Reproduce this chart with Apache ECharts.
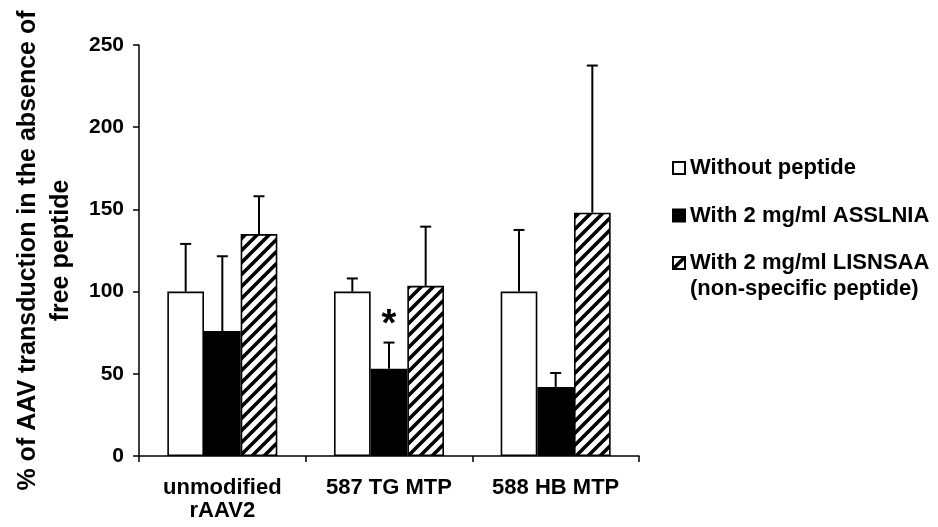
<!DOCTYPE html>
<html>
<head>
<meta charset="utf-8">
<script src="https://cdn.jsdelivr.net/npm/echarts@6/dist/echarts.min.js"></script>
<style>
html,body{margin:0;padding:0;background:#fff;}
#chart{width:938px;height:527px;}
</style>
</head>
<body>
<div id="chart"></div>
<script>
// ---- data ----
const categories = ['unmodified\nrAAV2', '587 TG MTP', '588 HB MTP'];
const seriesNames = ['Without peptide', 'With 2 mg/ml ASSLNIA', 'With 2 mg/ml LISNSAA'];
const legendSubtitle = '(non-specific peptide)';
const withoutPeptide = [100, 100, 100];
const withAsslnia = [76, 53, 42];
const withLisnsaa = [135, 103.5, 148];
const errWithout = [29, 8, 37.5];
const errAsslnia = [45.5, 16, 8.5];
const errLisnsaa = [23, 36, 89.5];
const sigAsslnia = ['', '*', ''];
const yMin = 0, yMax = 250, yStep = 50;

const FONT = '"Liberation Sans", Arial, sans-serif';
const GAP = 0.34;

function hatch() {
  const s = 12;
  const c = document.createElement('canvas');
  c.width = s; c.height = s;
  const g = c.getContext('2d');
  g.fillStyle = '#fff';
  g.fillRect(0, 0, s, s);
  g.strokeStyle = '#000';
  g.lineWidth = 3.6;
  g.lineCap = 'square';
  [-s, 0, s].forEach((dx) => {
    g.beginPath();
    g.moveTo(dx, s);
    g.lineTo(dx + s, 0);
    g.stroke();
  });
  return c;
}

const chart = echarts.init(document.getElementById('chart'), null, {renderer: 'canvas'});

const fills = ['#ffffff', '#000000', {image: hatch(), repeat: 'repeat'}];
const means = [withoutPeptide, withAsslnia, withLisnsaa];
const errs = [errWithout, errAsslnia, errLisnsaa];
const sigs = [['', '', ''], sigAsslnia, ['', '', '']];

const barSeries = seriesNames.map((name, k) => ({
  name: name,
  type: 'bar',
  data: means[k],
  barGap: '0%',
  barCategoryGap: (GAP * 100) + '%',
  itemStyle: {color: fills[k], borderColor: '#000', borderWidth: 1.6},
  emphasis: {disabled: true},
  z: 2
}));

const errSeries = seriesNames.map((name, k) => ({
  type: 'custom',
  name: name + ' err',
  data: means[k].map((m, i) => [i, m, m + errs[k][i]]),
  encode: {x: 0, y: [1, 2]},
  z: 5,
  silent: true,
  renderItem: function (params, api) {
    const ci = api.value(0);
    const mean = api.value(1);
    const up = api.value(2);
    const sig = sigs[k][ci];
    const w = api.size([1, 0])[0];
    const bw = w * (1 - GAP) / 3;
    const base = api.coord([ci, mean]);
    const top = api.coord([ci, up]);
    const x = base[0] + (k - 1) * bw;
    const children = [
      {type: 'line', shape: {x1: x, y1: base[1], x2: x, y2: top[1]}, style: {stroke: '#000', lineWidth: 2}},
      {type: 'line', shape: {x1: x - 5.5, y1: top[1], x2: x + 5.5, y2: top[1]}, style: {stroke: '#000', lineWidth: 2}}
    ];
    if (sig) {
      children.push({type: 'text', style: {text: sig, x: x, y: top[1] + 2, align: 'center', verticalAlign: 'bottom',
        font: 'bold 38px ' + FONT, fill: '#000'}});
    }
    return {type: 'group', children: children};
  }
}));

chart.setOption({
  animation: false,
  backgroundColor: '#fff',
  grid: {left: 139, right: 299, top: 45, bottom: 71},
  legend: {
    orient: 'vertical',
    left: 667,
    top: 150,
    itemWidth: 12,
    itemHeight: 12,
    itemGap: 21.5,
    icon: 'rect',
    data: seriesNames,
    selectedMode: false,
    textStyle: {fontFamily: FONT, fontWeight: 'bold', fontSize: 22, color: '#000', lineHeight: 26}
  },
  graphic: [{
    type: 'text',
    left: 690,
    top: 278,
    style: {text: legendSubtitle, font: 'bold 22px ' + FONT, fill: '#000'}
  }],
  xAxis: {
    type: 'category',
    data: categories,
    axisLine: {lineStyle: {color: '#000', width: 1.5}},
    axisTick: {show: true, length: 6, lineStyle: {color: '#000', width: 1.5}},
    axisLabel: {color: '#000', fontFamily: FONT, fontWeight: 'bold', fontSize: 22, lineHeight: 23, margin: 20, interval: 0},
    splitLine: {show: false}
  },
  yAxis: {
    type: 'value',
    min: yMin, max: yMax, interval: yStep,
    name: '% of AAV transduction in the absence of\nfree peptide',
    nameLocation: 'middle',
    nameGap: 59,
    nameTextStyle: {color: '#000', fontFamily: FONT, fontWeight: 'bold', fontSize: 25, lineHeight: 33, align: 'center'},
    axisLine: {show: true, lineStyle: {color: '#000', width: 1.5}},
    axisTick: {show: true, length: 6, lineStyle: {color: '#000', width: 1.5}},
    axisLabel: {color: '#000', fontFamily: FONT, fontWeight: 'bold', fontSize: 21, margin: 15},
    splitLine: {show: false}
  },
  series: barSeries.concat(errSeries)
});
</script>
</body>
</html>
